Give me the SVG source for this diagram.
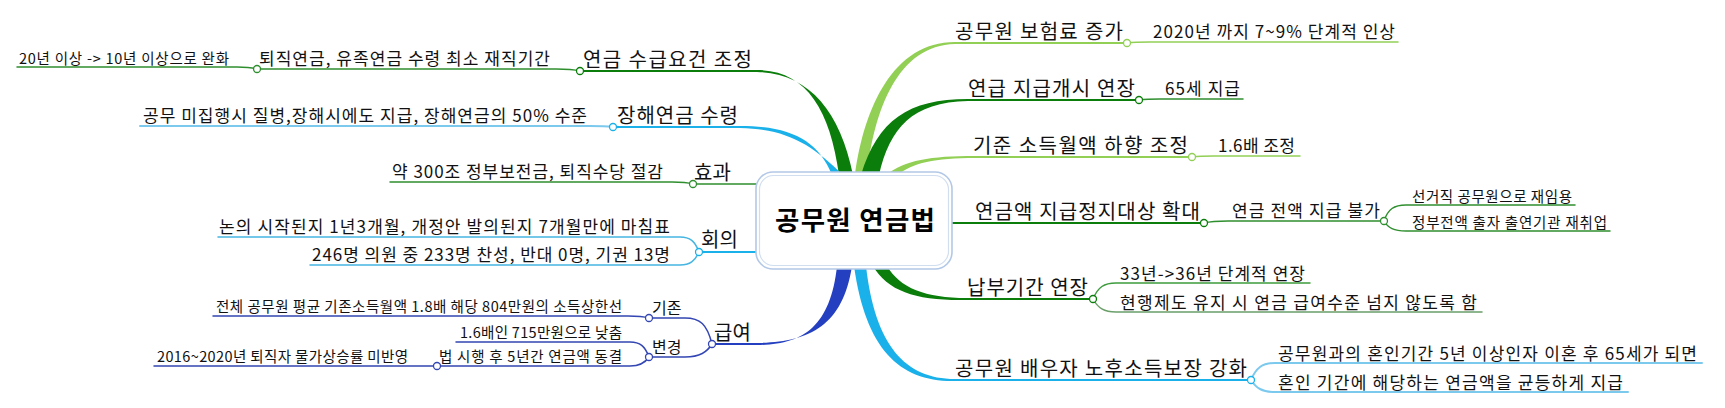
<svg xmlns="http://www.w3.org/2000/svg" width="1725" height="408" viewBox="0 0 1725 408">
<style>
text{font-family:"Noto Sans CJK KR","Noto Sans",sans-serif;fill:#111;}
.l1{font-size:20px;}
.l2{font-size:17px;}
.l2s{font-size:16px;}
.l3{font-size:14.5px;}
.root{font-size:26.5px;font-weight:bold;text-anchor:middle;fill:#000;}
.ln{fill:none;stroke-linecap:round;}
.lg{stroke:#92cf55;}
.dg{stroke:#0a7d0a;}
.g2{stroke:#2f8f2f;}
.lb{stroke:#1ab0ea;}
.lb2{stroke:#7cc9ee;}
.db{stroke:#3346b3;}
.w2{stroke-width:2;}
.w15{stroke-width:1.5;}
.dot{fill:#fff;stroke-width:1.3;}
</style>
<rect width="1725" height="408" fill="#fff"/>
<g id="connectors">
<path fill="#0a7d0a" d="M839,175 C830,108 805,70 757,70 L757,72 C808,73 840,110 853,175 Z"/>
<path fill="#1ab0ea" d="M832,175 C818,140 790,126 740,126 L740,128 C788,129 812,145 843,175 Z"/>
<path fill="#92cf55" d="M855,175 C864,108 893,42 955,42 L955,44 C898,45 874,110 867,175 Z"/>
<path fill="#0a7d0a" d="M861,175 C878,120 908,99 968,99 L968,101 C912,102 890,128 879,175 Z"/>
<path fill="#92cf55" d="M886,175 C905,160 930,156 975,156 L975,158 C935,158 912,163 898,175 Z"/>
<path fill="#0a7d0a" d="M887,266 C900,288 925,298 967,298 L967,300 C918,301 888,292 873,266 Z"/>
<path fill="#1ab0ea" d="M866,266 C875,345 905,379 955,379 L955,381 C900,382 866,350 854,266 Z"/>
<path fill="#2440c0" d="M852,266 C842,330 805,343 752,343 L752,345 C800,346 830,330 837,266 Z"/>
<path class="ln dg w2" d="M952,223 L1204,223"/>
<path class="ln g2 w15" d="M756,184 L693,184"/>
<path class="ln lb w2" d="M756,252 L699,252"/>
<path class="ln lg w2" d="M955,43 L1127,43"/>
<path class="ln dg w2" d="M968,100 L1139,100"/>
<path class="ln lg w2" d="M975,157 L1192,157"/>
<path class="ln dg w2" d="M967,299 L1093,299"/>
<path class="ln lb w2" d="M955,380 L1251,380"/>
<path class="ln dg w2" d="M757,71 L580,71"/>
<path class="ln lb w2" d="M740,127 L613,127"/>
<path class="ln w2" stroke="#2440c0" d="M752,344 L712,344"/>
<path class="ln lg w15" d="M1127,43 C1135,42 1140,42 1150,42 L1398,42"/>
<path class="ln g2 w15" d="M1139,100 C1147,99 1152,99 1160,99 L1243,99"/>
<path class="ln lg w15" d="M1192,157 C1200,156 1205,156 1214,156 L1300,156"/>
<path class="ln g2 w15" d="M1204,223 C1212,221 1218,221 1228,221 L1384,221"/>
<path class="ln g2 w15" d="M1384,221 C1388,209 1394,205 1406,205 L1575,205"/>
<path class="ln g2 w15" d="M1384,221 C1388,228 1394,231 1406,231 L1610,231"/>
<path class="ln w15" stroke="#3d9b3d" d="M1093,299 C1098,287 1104,283 1116,283 L1310,283"/>
<path class="ln w15" stroke="#6a9f6a" d="M1093,299 C1098,308 1104,312 1116,312 L1482,312"/>
<path class="ln lb2 w2" d="M1251,380 C1256,368 1262,363 1275,363 L1702,363"/>
<path class="ln lb2 w2" d="M1251,380 C1256,388 1262,392 1275,392 L1628,392"/>
<path class="ln g2 w15" d="M580,71 C572,69 566,69 556,69 L257,69"/>
<path class="ln g2 w15" d="M257,69 C250,67 245,67 237,67 L17,67"/>
<path class="ln lb2 w2" d="M613,127 C605,126 600,126 590,126 L140,126"/>
<path class="ln g2 w15" d="M693,184 C686,182 680,182 672,182 L390,182"/>
<path class="ln w15" stroke="#45b5e2" d="M699,252 C695,241 690,237 680,237 L218,237"/>
<path class="ln w15" stroke="#45b5e2" d="M699,252 C695,261 690,265 680,265 L310,265"/>
<path class="ln db w15" d="M712,344 C707,324 700,318 685,318 L649,318"/>
<path class="ln db w15" d="M712,344 C707,352 700,357 685,357 L649,357"/>
<path class="ln db w15" d="M649,318 C642,316 636,316 628,316 L213,316"/>
<path class="ln db w15" d="M649,357 C645,346 640,342 630,342 L456,342"/>
<path class="ln db w15" d="M649,357 C645,363 640,366 630,366 L437,366"/>
<path class="ln db w15" d="M437,366 L154,366"/>
<circle class="dot lg" cx="1127" cy="43" r="3.5"/>
<circle class="dot dg" cx="1139" cy="100" r="3.5"/>
<circle class="dot lg" cx="1192" cy="157" r="3.5"/>
<circle class="dot dg" cx="1204" cy="223" r="3.5"/>
<circle class="dot g2" cx="1384" cy="221" r="3.5"/>
<circle class="dot dg" cx="1093" cy="299" r="3.5"/>
<circle class="dot lb" cx="1251" cy="380" r="3.5"/>
<circle class="dot dg" cx="580" cy="71" r="3.5"/>
<circle class="dot g2" cx="257" cy="69" r="3.5"/>
<circle class="dot lb" cx="613" cy="127" r="3.5"/>
<circle class="dot g2" cx="693" cy="184" r="3.5"/>
<circle class="dot lb" cx="699" cy="252" r="3.5"/>
<circle class="dot db" cx="712" cy="344" r="3.5"/>
<circle class="dot db" cx="649" cy="318" r="3.5"/>
<circle class="dot db" cx="649" cy="357" r="3.5"/>
<circle class="dot db" cx="437" cy="366" r="3.5"/>
</g>
<g id="root">
<rect x="756" y="172" width="196" height="97" rx="17" fill="#fff" stroke="#b3c8e6" stroke-width="1.6"/>
<rect x="759.5" y="175.5" width="189" height="90" rx="14" fill="none" stroke="#d0def0" stroke-width="1.2"/>
<text class="root" x="855" y="230" textLength="160">공무원 연금법</text>
</g>
<g id="n-r1"><text class="l1" x="955" y="39" textLength="168">공무원 보험료 증가</text></g>
<g id="n-r1a"><text class="l2" x="1153" y="38" textLength="242">2020년 까지 7~9% 단계적 인상</text></g>
<g id="n-r2"><text class="l1" x="968" y="96" textLength="167">연급 지급개시 연장</text></g>
<g id="n-r2a"><text class="l2" x="1165" y="95" textLength="75">65세 지급</text></g>
<g id="n-r3"><text class="l1" x="973" y="153" textLength="215">기준 소득월액 하향 조정</text></g>
<g id="n-r3a"><text class="l2" x="1218" y="152" textLength="77">1.6배 조정</text></g>
<g id="n-r4"><text class="l1" x="975" y="219" textLength="225">연금액 지급정지대상 확대</text></g>
<g id="n-r4a"><text class="l2" x="1232" y="217" textLength="148">연금 전액 지급 불가</text></g>
<g id="n-r4a1"><text class="l3" x="1412" y="202" textLength="160">선거직 공무원으로 재임용</text></g>
<g id="n-r4a2"><text class="l3" x="1412" y="228" textLength="195">정부전액 출자 출연기관 재취업</text></g>
<g id="n-r5"><text class="l1" x="967" y="295" textLength="121">납부기간 연장</text></g>
<g id="n-r5a"><text class="l2" x="1120" y="280" textLength="185">33년-&gt;36년 단계적 연장</text></g>
<g id="n-r5b"><text class="l2" x="1120" y="309" textLength="357">현행제도 유지 시 연금 급여수준 넘지 않도록 함</text></g>
<g id="n-r6"><text class="l1" x="955" y="376" textLength="292">공무원 배우자 노후소득보장 강화</text></g>
<g id="n-r6a"><text class="l2" x="1278" y="360" textLength="419">공무원과의 혼인기간 5년 이상인자 이혼 후 65세가 되면</text></g>
<g id="n-r6b"><text class="l2" x="1278" y="389" textLength="345">혼인 기간에 해당하는 연금액을 균등하게 지급</text></g>
<g id="n-l1"><text class="l1" x="583" y="67" textLength="169">연금 수급요건 조정</text></g>
<g id="n-l1a"><text class="l2" x="259" y="65" textLength="291">퇴직연금, 유족연금 수령 최소 재직기간</text></g>
<g id="n-l1a1"><text class="l3" x="19" y="64" textLength="210">20년 이상 -&gt; 10년 이상으로 완화</text></g>
<g id="n-l2"><text class="l1" x="617" y="123" textLength="121">장해연금 수령</text></g>
<g id="n-l2a"><text class="l2" x="143" y="122" textLength="444">공무 미집행시 질병,장해시에도 지급, 장해연금의 50% 수준</text></g>
<g id="n-l3"><text class="l1" x="694" y="180">효과</text></g>
<g id="n-l3a"><text class="l2" x="392" y="178" textLength="271">약 300조 정부보전금, 퇴직수당 절감</text></g>
<g id="n-l4"><text class="l1" x="701" y="247">회의</text></g>
<g id="n-l4a"><text class="l2" x="219" y="233" textLength="451">논의 시작된지 1년3개월, 개정안 발의된지 7개월만에 마침표</text></g>
<g id="n-l4b"><text class="l2" x="312" y="261" textLength="358">246명 의원 중 233명 찬성, 반대 0명, 기권 13명</text></g>
<g id="n-l5"><text class="l1" x="714" y="340">급여</text></g>
<g id="n-l5a"><text class="l2s" x="652" y="314">기존</text></g>
<g id="n-l5b"><text class="l2s" x="652" y="353">변경</text></g>
<g id="n-l5a1"><text class="l3" x="216" y="312" textLength="406">전체 공무원 평균 기존소득월액 1.8배 해당 804만원의 소득상한선</text></g>
<g id="n-l5b1"><text class="l3" x="460" y="338" textLength="162">1.6배인 715만원으로 낮춤</text></g>
<g id="n-l5b2"><text class="l3" x="439" y="362" textLength="183">법 시행 후 5년간 연금액 동결</text></g>
<g id="n-l5b2a"><text class="l3" x="157" y="362" textLength="251">2016~2020년 퇴직자 물가상승률 미반영</text></g>
</svg>
